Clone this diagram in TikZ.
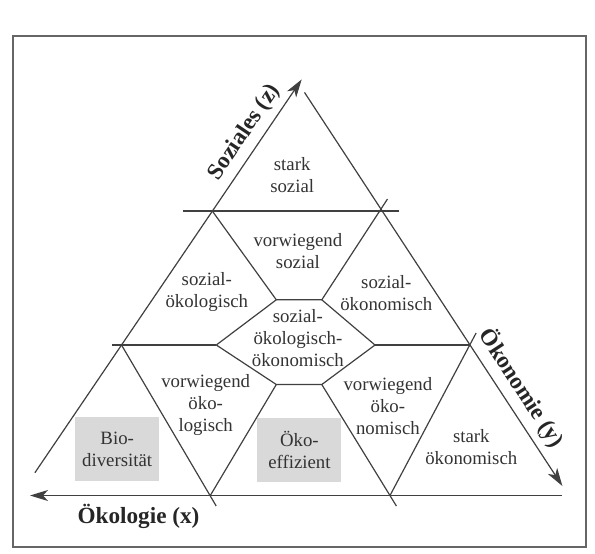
\documentclass[tikz,border=0pt]{standalone}
\usepackage{fontspec}
\setmainfont{Liberation Serif}
\usetikzlibrary{arrows.meta,positioning,calc}

\begin{document}
\begin{tikzpicture}[x=0.5pt,y=-0.5pt,
    line/.style={draw=black!75,line width=0.6pt},
    axis/.style={line,-{Stealth[length=9pt,width=5.5pt,inset=2.5pt]}},
    field/.style={align=center,font=\fontsize{9.4pt}{11pt}\selectfont,text=black!80,inner sep=0pt},
    gbox/.style={field,fill=black!15,minimum width=42pt,minimum height=32pt},
    axlabel/.style={font=\fontsize{11.6pt}{13pt}\selectfont\bfseries,text=black!85,inner sep=0pt}]
\useasboundingbox (0,0) rectangle (595,553);
\draw[black!60,line width=1pt] (12.5,36) rectangle (586.4,547.4);

% triangle corners and axis ends
\coordinate (zs) at (34.9,472.7);
\coordinate (zt) at (301.7,79.4);
\coordinate (apex) at (304.5,92.4);
\coordinate (yt) at (562.4,486);
\coordinate (xs) at (562,495.5);
\coordinate (xt) at (30,495.5);

% crossings
\coordinate (u1) at (183.3,211);
\coordinate (u2) at (399.2,211);
\coordinate (ul) at (212.3,211);
\coordinate (ue) at (387.5,199);
\coordinate (m1) at (112,345);
\coordinate (ml) at (121.5,345);
\coordinate (mr) at (469.7,345);
\coordinate (me) at (476.1,333);
\coordinate (b1) at (210.3,495.5);
\coordinate (b2) at (390,495.5);
\coordinate (ce) at (216.2,506);
\coordinate (ee) at (396.4,506);

% hexagon
\coordinate (hl) at (216.3,345);
\coordinate (htl) at (276.3,299.8);
\coordinate (htr) at (321.8,299.8);
\coordinate (hr) at (375,345);
\coordinate (hbr) at (321.8,384.5);
\coordinate (hbl) at (276.3,384.5);

\begin{scope}[every path/.style={line}]
    \draw (u1) -- (u2);
    \draw (m1) -- (hl);
    \draw (hr) -- (mr);
    \draw (hl) -- (htl) -- (htr) -- (hr) -- (hbr) -- (hbl) -- cycle;
    \draw (ul) -- (htl);
    \draw (htr) -- (ue);
    \draw (ml) -- (ce);
    \draw (b1) -- (hbl);
    \draw (hbr) -- (ee);
    \draw (b2) -- (me);
\end{scope}

\draw[axis] (zs) -- (zt);
\draw[axis] (apex) -- (yt);
\draw[axis] (xs) -- (xt);

\node[gbox] (bio) at (117.2,449.4) {Bio-\\diversität};
\node[gbox] (eff) at (299.4,449.5) {Öko-\\effizient};

\begin{scope}[every node/.style={field}]
    \node (ss) at (292.2,175.3) {stark\\sozial};
    \node (vs) at (297.9,251) {vorwiegend\\sozial};
    \node (sl) at (206.8,291.7) {sozial-\\ökologisch};
    \node (sn) at (386.3,292.8) {sozial-\\ökonomisch};
    \node (all) at (297.9,337.6) {sozial-\\ökologisch-\\ökonomisch};
    \node (vl) at (205.7,404.6) {vorwiegend\\öko-\\logisch};
    \node (vn) at (387.9,405.6) {vorwiegend\\öko-\\nomisch};
    \node (sk) at (471.3,447.3) {stark\\ökonomisch};
\end{scope}

\node[axlabel] (xl) at (138.5,516.7) {Ökologie (x)};
\node[axlabel,rotate=55.9] (zl) at (244.7,132.3) {Soziales (z)};
\node[axlabel,rotate=-56.9] (yl) at (521.8,388) {Ökonomie (y)};
\end{tikzpicture}
\end{document}
